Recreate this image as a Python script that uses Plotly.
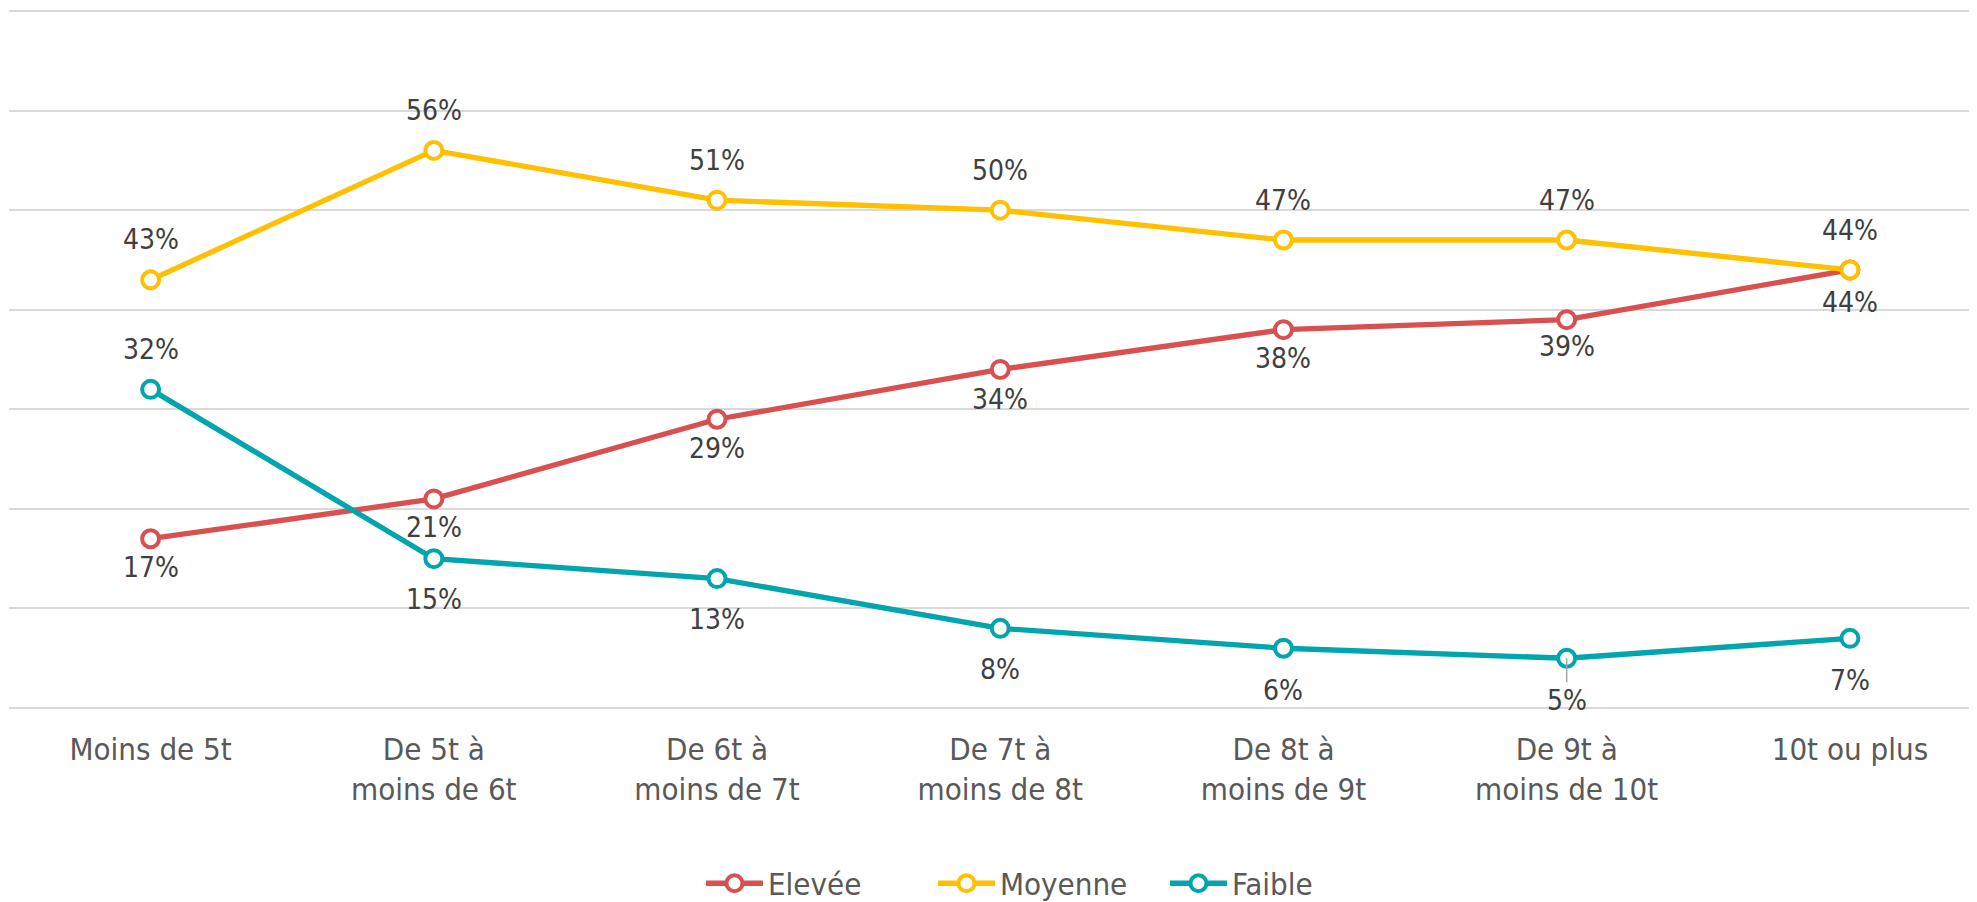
import plotly.graph_objects as go

categories = ["Moins de 5t", "De 5t à<br>moins de 6t", "De 6t à<br>moins de 7t",
              "De 7t à<br>moins de 8t", "De 8t à<br>moins de 9t", "De 9t à<br>moins de 10t",
              "10t ou plus"]
series_names = ["Elevée", "Moyenne", "Faible"]
elevee = [17, 21, 29, 34, 38, 39, 44]
moyenne = [43, 56, 51, 50, 47, 47, 44]
faible = [32, 15, 13, 8, 6, 5, 7]
y_ticks = [0, 10, 20, 30, 40, 50, 60, 70]

colors = ["#D95050", "#FFC000", "#00A5AE"]
# label placement: vertical shift in px of each data label
label_shift = [
    [-29, -29, -29, -30, -29, -27, -33],
    [40, 40, 40, 40, 40, 40, 39],
    [40, -41, -41, -41, -42, -42, -42],
]

FONT = "DejaVu Sans Condensed, DejaVu Sans, sans-serif"

fig = go.Figure()
annotations = []
for name, vals, col, shifts in zip(series_names, [elevee, moyenne, faible], colors, label_shift):
    fig.add_trace(go.Scatter(
        x=categories, y=vals, name=name, mode="lines+markers",
        line=dict(color=col, width=5.3),
        marker=dict(symbol="circle", size=17, color="white", line=dict(color=col, width=4)),
        hoverinfo="skip",
    ))
    for c, v, s in zip(categories, vals, shifts):
        ann = dict(x=c, y=v, text=f"{v}%", showarrow=False, yshift=s,
                   font=dict(family=FONT, size=28, color="#404040"))
        if name == "Faible" and v == 5:
            ann.update(showarrow=True, yshift=0, ax=0, ay=-s, axref="pixel", ayref="pixel",
                       arrowhead=0, arrowwidth=1.5, arrowcolor="#A6A6A6", standoff=0)
        annotations.append(ann)

fig.update_layout(
    width=1977, height=902,
    margin=dict(l=1, r=0, t=0, b=199, autoexpand=False),
    paper_bgcolor="white", plot_bgcolor="white",
    font=dict(family=FONT, size=31, color="#595959"),
    xaxis=dict(type="category", categoryorder="array", categoryarray=categories,
               range=[-0.5, 6.477], showgrid=False, zeroline=False, showline=False,
               ticks="", tickfont=dict(size=31, color="#595959"), ticklabelstandoff=17,
               automargin=False),
    yaxis=dict(range=[-0.3, 70.3], tickvals=y_ticks, showticklabels=False, showgrid=True,
               gridcolor="#D9D9D9", gridwidth=2, zeroline=False, showline=False,
               automargin=False),
    legend=dict(orientation="h", x=0.5263, xanchor="center", y=-0.2455, yanchor="middle",
                font=dict(size=31, color="#595959"), traceorder="normal",
                itemwidth=57, entrywidth=160, entrywidthmode="pixels"),
    annotations=annotations,
    showlegend=True,
)

fig.write_html("out.html")
